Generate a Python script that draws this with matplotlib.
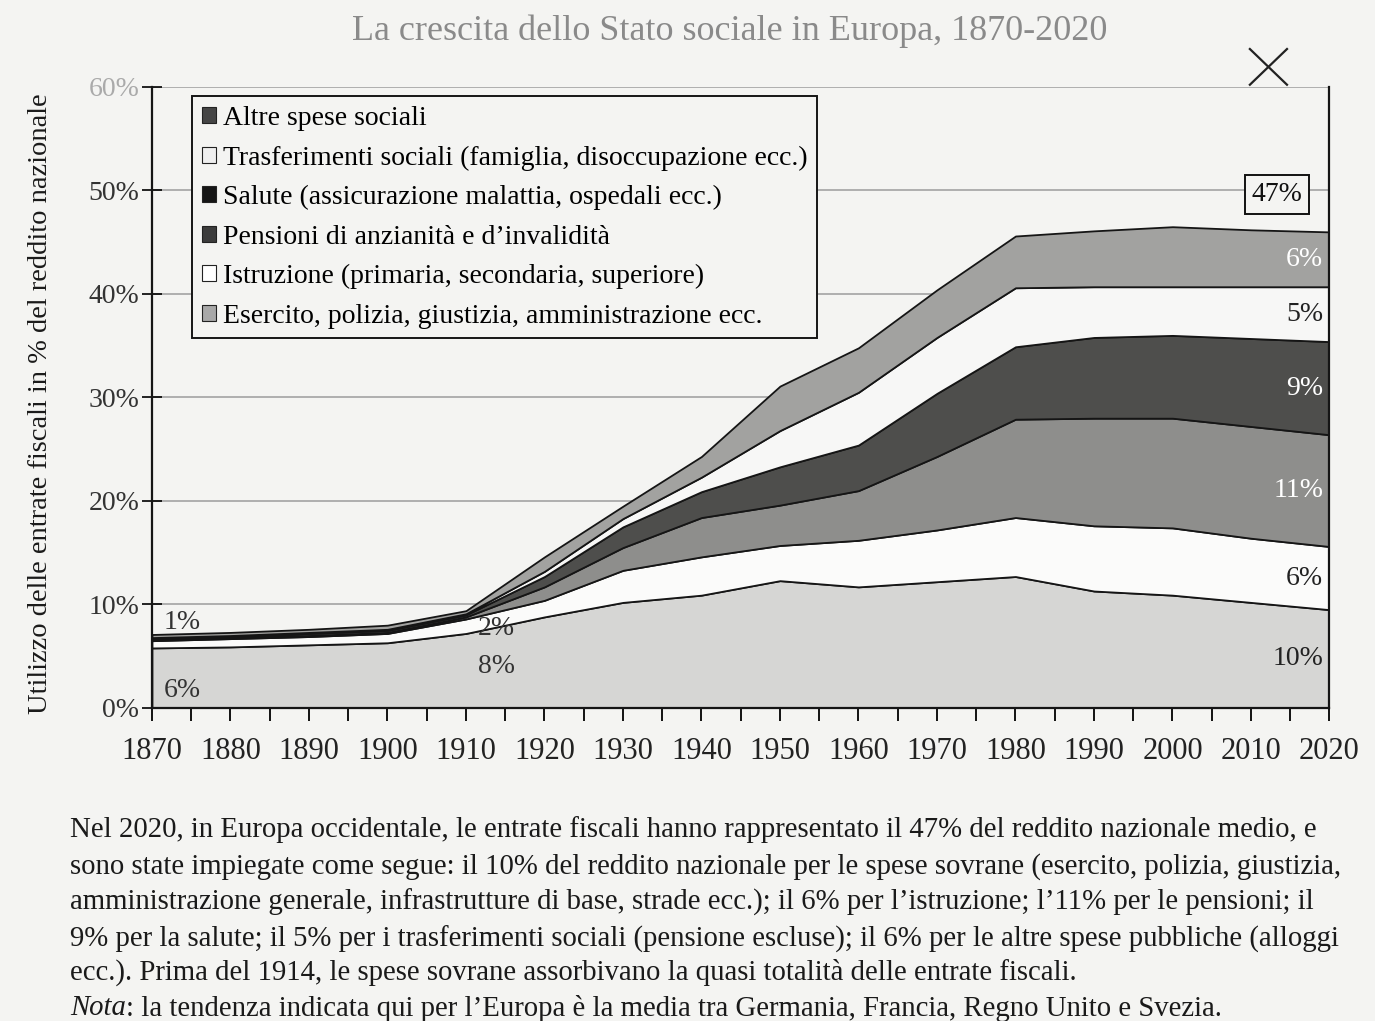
import matplotlib
matplotlib.use("Agg")
import matplotlib.pyplot as plt
from matplotlib.patches import Patch
from matplotlib.lines import Line2D
import numpy as np

# ---------------- data ----------------
years = [1870, 1880, 1890, 1900, 1910, 1920, 1930, 1940, 1950, 1960, 1970, 1980, 1990, 2000, 2010, 2020]
esercito    = [5.8, 5.9, 6.1, 6.3, 7.2, 8.8, 10.2, 10.9, 12.3, 11.7, 12.2, 12.7, 11.3, 10.9, 10.2, 9.5]
istruzione  = [0.7, 0.8, 0.8, 0.9, 1.4, 1.6, 3.1, 3.7, 3.4, 4.5, 5.0, 5.7, 6.3, 6.5, 6.2, 6.1]
pensioni    = [0.1, 0.1, 0.1, 0.1, 0.2, 1.3, 2.2, 3.8, 3.9, 4.8, 7.1, 9.5, 10.4, 10.6, 10.8, 10.8]
salute      = [0.1, 0.1, 0.2, 0.2, 0.2, 1.0, 2.0, 2.5, 3.7, 4.4, 6.1, 7.0, 7.8, 8.0, 8.5, 9.0]
trasferim   = [0.1, 0.1, 0.1, 0.1, 0.1, 0.5, 0.8, 1.4, 3.5, 5.1, 5.4, 5.7, 4.9, 4.7, 5.0, 5.3]
altre       = [0.3, 0.3, 0.3, 0.4, 0.3, 1.4, 1.2, 2.0, 4.3, 4.3, 4.6, 5.0, 5.4, 5.8, 5.5, 5.3]

series_names = [
    "Esercito, polizia, giustizia, amministrazione ecc.",
    "Istruzione (primaria, secondaria, superiore)",
    "Pensioni di anzianità e d\u2019invalidità",
    "Salute (assicurazione malattia, ospedali ecc.)",
    "Trasferimenti sociali (famiglia, disoccupazione ecc.)",
    "Altre spese sociali",
]
right_labels = ["10%", "6%", "11%", "9%", "5%", "6%"]
total_label = "47%"
left_labels = [("6%", 1871.5, 1.7), ("1%", 1871.5, 8.3), ("8%", 1911.5, 4.0), ("2%", 1911.5, 7.7)]

yticks = [0, 10, 20, 30, 40, 50, 60]
xticks = list(range(1870, 2021, 10))

title = "La crescita dello Stato sociale in Europa, 1870-2020"
ylabel = "Utilizzo delle entrate fiscali in % del reddito nazionale"
caption = [
    "Nel 2020, in Europa occidentale, le entrate fiscali hanno rappresentato il 47% del reddito nazionale medio, e",
    "sono state impiegate come segue: il 10% del reddito nazionale per le spese sovrane (esercito, polizia, giustizia,",
    "amministrazione generale, infrastrutture di base, strade ecc.); il 6% per l\u2019istruzione; l\u201911% per le pensioni; il",
    "9% per la salute; il 5% per i trasferimenti sociali (pensione escluse); il 6% per le altre spese pubbliche (alloggi",
    "ecc.). Prima del 1914, le spese sovrane assorbivano la quasi totalità delle entrate fiscali.",
]
nota_head = "Nota"
nota_rest = ": la tendenza indicata qui per l\u2019Europa è la media tra Germania, Francia, Regno Unito e Svezia."

# ---------------- style ----------------
plt.rcParams["font.family"] = ["Liberation Serif", "DejaVu Serif"]
bg = "#f4f4f2"
colors = ["#d6d6d4", "#fbfbfa", "#8e8e8c", "#4e4e4c", "#f7f7f6", "#a2a2a0"]
legend_colors = ["#a8a8a8", "#ffffff", "#3c3c3c", "#151515", "#efefef", "#454545"]
label_colors = ["#222222", "#222222", "#ffffff", "#ffffff", "#222222", "#ffffff"]
FS = 20

fig = plt.figure(figsize=(13.75, 10.21), dpi=100)
fig.patch.set_facecolor(bg)
ax = fig.add_axes([0.1105, 0.3066, 0.8564, 0.6082])
ax.set_facecolor(bg)

data = [esercito, istruzione, pensioni, salute, trasferim, altre]
ax.stackplot(years, *data, colors=colors, edgecolor="#151515", linewidth=1.3, zorder=2)

ax.set_xlim(1870, 2020)
ax.set_ylim(0, 60)
ax.set_yticks(yticks)
ax.set_yticklabels([f"{v}%" for v in yticks], fontsize=FS, color="#333333")
ax.get_yticklabels()[-1].set_color("#aaaaaa")
ax.set_xticks(xticks)
ax.set_xticklabels([str(x) for x in xticks], fontsize=22, color="#222222")
ax.set_xticks(list(range(1875, 2020, 10)), minor=True)
ax.tick_params(axis="x", which="both", direction="out", length=9, width=1.3, pad=12)
ax.tick_params(axis="y", direction="inout", length=14, width=1.2, pad=2)
ax.yaxis.grid(True, color="#9c9c9c", lw=1.1, zorder=0)
ax.set_axisbelow(True)
for s in ["left", "bottom", "right"]:
    ax.spines[s].set_color("#151515")
    ax.spines[s].set_linewidth(1.6)
ax.spines["top"].set_visible(False)

ax.set_ylabel(ylabel, fontsize=20.5, color="#1a1a1a")
ax.yaxis.set_label_coords(-0.084, 0.49)

# band labels on the right
cum = np.cumsum(np.array(data), axis=0)
for i, lab in enumerate(right_labels):
    lower = cum[i - 1][-1] if i > 0 else 0.0
    mid = (lower + cum[i][-1]) / 2
    ax.text(2019.2, mid, lab, ha="right", va="center", fontsize=FS,
            color=label_colors[i], zorder=5)
ax.text(2013.3, 49.6, total_label, ha="center", va="center", fontsize=FS, color="#111111",
        bbox=dict(boxstyle="square,pad=0.25", fc=bg, ec="#111111", lw=1.4), zorder=6)
for lab, x, y in left_labels:
    ax.text(x, y, lab, ha="left", va="center", fontsize=FS, color="#333333", zorder=5)

# legend
handles = [Patch(facecolor=legend_colors[i], edgecolor="#222222", linewidth=0.8)
           for i in range(len(series_names))][::-1]
leg = ax.legend(handles, series_names[::-1], loc="upper left", bbox_to_anchor=(0.034, 0.985),
                fontsize=FS, frameon=True, fancybox=False, handlelength=0.5, handleheight=0.5,
                handletextpad=0.25, labelspacing=0.52, borderpad=0.35, borderaxespad=0.0)
leg.get_frame().set_edgecolor("#151515")
leg.get_frame().set_linewidth(1.4)
leg.get_frame().set_facecolor(bg)
leg.get_frame().set_alpha(1)
leg.set_zorder(10)

# title and close mark
fig.text(0.531, 0.969, title, ha="center", va="center", fontsize=26, color="#8a8a8a")
fig.add_artist(Line2D([0.909, 0.936], [0.952, 0.917], transform=fig.transFigure, color="#222222", lw=1.6))
fig.add_artist(Line2D([0.909, 0.936], [0.917, 0.952], transform=fig.transFigure, color="#222222", lw=1.6))

# caption
CFS = 20.7
ys = [830, 867, 902, 939, 972]
for line, y in zip(caption, ys):
    fig.text(0.051, 1 - y / 1021, line, ha="left", va="center", fontsize=CFS, color="#1a1a1a")
t = fig.text(0.051, 1 - 1008 / 1021, nota_head, ha="left", va="center", fontsize=CFS,
             color="#1a1a1a", style="italic")
ax.annotate(nota_rest, xy=(1, 0.5), xycoords=t, ha="left", va="center", fontsize=CFS,
            color="#1a1a1a", annotation_clip=False)

fig.savefig("out.png", dpi=100, facecolor=bg)
